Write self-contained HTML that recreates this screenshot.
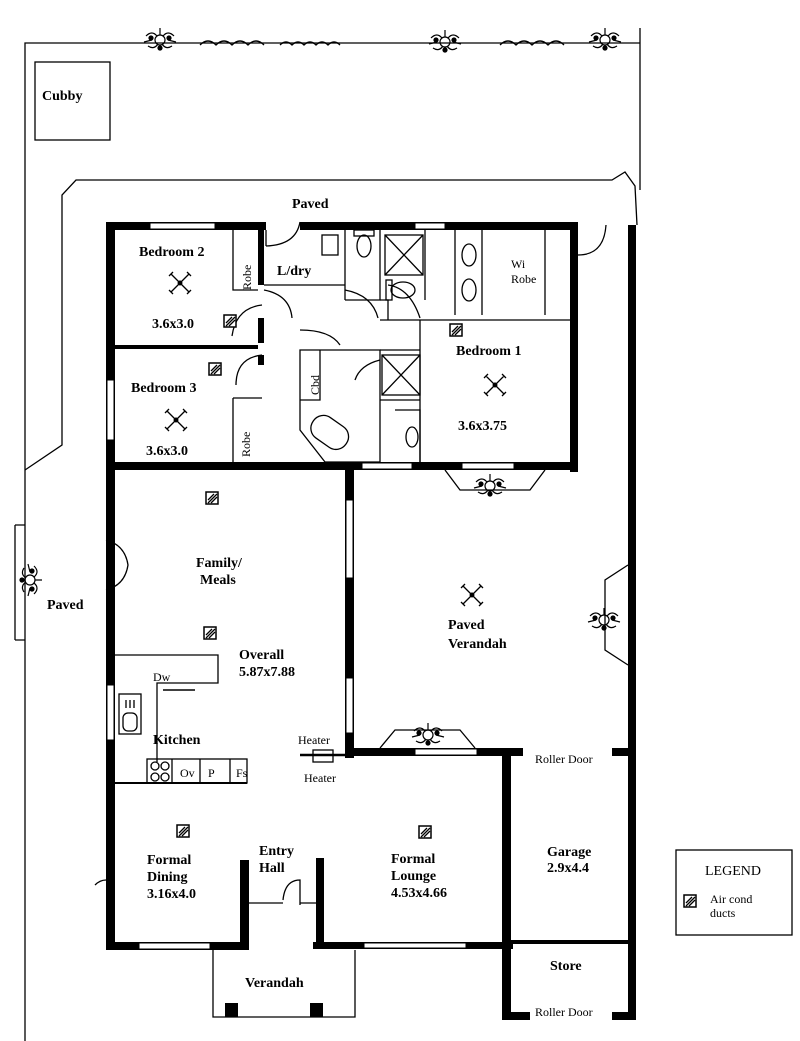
<!DOCTYPE html>
<html><head><style>
html,body{margin:0;padding:0;background:#fff}
svg{display:block}
text{font-family:"Liberation Serif",serif;font-size:14px;font-weight:bold;fill:#000}
.n{font-weight:normal;font-size:12px}
</style></head><body>
<svg width="800" height="1041" viewBox="0 0 800 1041" xmlns="http://www.w3.org/2000/svg">
<defs>
<g id="fan" stroke="#000" stroke-width="1.3" fill="none">
<path d="M0 0 L-9 -9 M-11 -7 L-7 -11 M0 0 L9 -9 M7 -11 L11 -7 M0 0 L-9 9 M-11 7 L-7 11 M0 0 L9 9 M7 11 L11 7"/>
<circle r="1.8" fill="#000"/>
</g>
<g id="ac"><rect x="-6" y="-6" width="12" height="12" fill="#fff" stroke="#000" stroke-width="1.5"/><path d="M-4 2 L2 -4 M-4 5 L5 -4 M-1 5 L5 -1" stroke="#000" stroke-width="1.3"/></g>
<g id="plant" stroke="#000" fill="none" stroke-width="1.2"><circle r="5"/><path d="M-14 -4 Q-8 -10 -3 -4 M14 -4 Q8 -10 3 -4 M-12 6 Q-6 10 -2 4 M12 6 Q6 10 2 4 M0 -5 L0 -12 M-8 0 L-16 2 M8 0 L16 2"/><circle cx="-9" cy="-2" r="2" fill="#000"/><circle cx="9" cy="-2" r="2" fill="#000"/><circle cx="0" cy="8" r="2" fill="#000"/></g>
</defs>
<g fill="none" stroke="#000" stroke-width="1.3">
<path d="M25 1041 L25 43 L640 43"/>
<path d="M640 28 L640 190"/>
<rect x="35" y="62" width="75" height="78"/>
<path d="M25 470 L62 445 L62 195 L76 180 L612 180 L625 172 L635 186 L637 225"/>
<path d="M200 45 q8 -8 16 0 q8 -8 16 0 q8 -8 16 0 q8 -8 16 0 M280 45 q6 -6 12 0 q6 -6 12 0 q6 -6 12 0 q6 -6 12 0 q6 -6 12 0 M500 45 q8 -8 16 0 q8 -8 16 0 q8 -8 16 0 q8 -8 16 0"/>
<path d="M15 525 L25 525 M15 525 L15 640 M15 640 L25 640"/>
</g>
<use href="#plant" x="160" y="40"/>
<use href="#plant" x="445" y="42"/>
<use href="#plant" x="605" y="40"/>
<use href="#plant" x="30" y="580" transform="rotate(90 30 580)"/>
<use href="#plant" x="490" y="486"/>
<use href="#plant" x="604" y="620"/>
<use href="#plant" x="428" y="735"/>

<g fill="#000">
<rect x="106" y="222" width="160" height="8"/>
<rect x="300" y="222" width="278" height="8"/>
<rect x="106" y="222" width="9" height="728"/>
<rect x="570" y="222" width="8" height="250"/>
<rect x="106" y="462" width="472" height="8"/>
<rect x="345" y="462" width="9" height="296"/>
<rect x="345" y="748" width="178" height="8"/>
<rect x="502" y="748" width="9" height="272"/>
<rect x="628" y="225" width="8" height="795"/>
<rect x="106" y="942" width="142" height="8"/>
<rect x="313" y="942" width="200" height="7"/>
<rect x="240" y="860" width="9" height="90"/>
<rect x="316" y="858" width="8" height="90"/>
<rect x="258" y="230" width="6" height="55"/>
<rect x="258" y="318" width="6" height="25"/>
<rect x="258" y="355" width="6" height="10"/>
<rect x="115" y="345" width="143" height="4"/>
<rect x="612" y="748" width="18" height="8"/>
</g>
<g fill="#fff" stroke="#000" stroke-width="1">
<rect x="150" y="223" width="65" height="6"/>
<rect x="107" y="380" width="7" height="60"/>
<rect x="107" y="685" width="7" height="55"/>
<rect x="415" y="223" width="30" height="6"/>
<rect x="362" y="463" width="50" height="6"/>
<rect x="462" y="463" width="52" height="6"/>
<rect x="346" y="500" width="7" height="78"/>
<rect x="346" y="678" width="7" height="55"/>
<rect x="139" y="943" width="71" height="6"/>
<rect x="364" y="943" width="102" height="5"/>
<rect x="415" y="749" width="62" height="6"/>
</g>
<g fill="none" stroke="#000" stroke-width="1.3">
<path d="M233 230 L233 290 L258 290 M233 398 L233 470 M262 398 L233 398"/>
<path d="M264 285 L345 285 L345 230 M345 285 L345 300 M380 230 L380 300 L345 300"/>
<path d="M380 300 L388 300 L388 320 L570 320 M420 320 L420 462 M380 320 L388 320"/>
<path d="M425 230 L425 300 M455 230 L455 315 M482 230 L482 315 M545 230 L545 315"/>
<path d="M300 350 L300 430 L325 462 L380 462 L380 350 Z M300 400 L320 400 L320 350"/>
<path d="M380 350 L420 350 M380 400 L420 400 M395 410 L420 410 L420 462"/>
<path d="M266 246 Q296 245 300 222"/><path d="M266 246 L266 230"/>
<path d="M264 290 Q290 295 292 318"/>
<path d="M345 290 Q372 295 378 318"/>
<path d="M388 285 Q410 288 420 318"/>
<path d="M262 305 Q236 308 232 336"/>
<path d="M262 355 Q236 358 236 385"/>
<path d="M300 330 Q330 330 340 345"/>
<path d="M380 360 Q360 365 355 380"/>
<path d="M578 255 Q604 255 606 225"/>
<path d="M106 540 Q125 545 128 565 Q125 585 106 590"/>
<path d="M95 885 Q100 880 106 880"/>
<path d="M283 900 Q285 880 300 880 L300 905"/>
<path d="M249 903 L283 903 M300 903 L316 903"/>
<rect x="322" y="235" width="16" height="20"/>
<ellipse cx="364" cy="246" rx="7" ry="11"/><rect x="354" y="230" width="20" height="6"/>
<rect x="385" y="235" width="38" height="40"/><path d="M385 235 L423 275 M423 235 L385 275"/>
<ellipse cx="403" cy="290" rx="12" ry="8"/><rect x="386" y="280" width="6" height="20"/>
<ellipse cx="469" cy="255" rx="7" ry="11"/><ellipse cx="469" cy="290" rx="7" ry="11"/>
<rect x="382" y="355" width="38" height="40"/><path d="M382 355 L420 395 M420 355 L382 395"/>
<ellipse cx="412" cy="437" rx="6" ry="10"/>
<rect x="310" y="420" width="40" height="25" rx="12" transform="rotate(35 330 432)"/>
<path d="M445 470 L460 490 L530 490 L545 470"/>
<path d="M628 565 L605 580 L605 650 L628 665"/>
<path d="M380 748 L395 730 L460 730 L475 748"/>
<path d="M352 578 L350 678"/>
<path d="M115 655 L218 655 L218 683 L157 683 L157 762"/>
<path d="M163 690 L195 690" stroke-width="1.6"/>
<rect x="119" y="694" width="22" height="40"/><rect x="123" y="713" width="14" height="18" rx="5"/><path d="M126 700 L126 708 M130 700 L130 708 M134 700 L134 708"/>
<rect x="147" y="759" width="100" height="24"/>
<path d="M172 759 L172 783 M200 759 L200 783 M230 759 L230 783"/>
<circle cx="155" cy="766" r="4"/><circle cx="165" cy="766" r="4"/><circle cx="155" cy="777" r="4"/><circle cx="165" cy="777" r="4"/>
<path d="M115 783 L247 783" stroke-width="2"/>
<path d="M300 755 L345 755" stroke-width="2.5"/>
<rect x="313" y="750" width="20" height="12"/>
<path d="M213 950 L213 1017 L355 1017 L355 950"/>
<rect x="676" y="850" width="116" height="85"/>
</g>
<g fill="#000">
<rect x="225" y="1003" width="13" height="14"/>
<rect x="310" y="1003" width="13" height="14"/>
<rect x="508" y="1012" width="22" height="8"/>
<rect x="612" y="1012" width="18" height="8"/>
</g>
<rect x="511" y="940" width="118" height="4" fill="#000"/>
<use href="#fan" x="180" y="283"/>
<use href="#fan" x="176" y="420"/>
<use href="#fan" x="495" y="385"/>
<use href="#fan" x="472" y="595"/>
<use href="#ac" x="230" y="321"/>
<use href="#ac" x="215" y="369"/>
<use href="#ac" x="456" y="330"/>
<use href="#ac" x="212" y="498"/>
<use href="#ac" x="210" y="633"/>
<use href="#ac" x="183" y="831"/>
<use href="#ac" x="425" y="832"/>
<use href="#ac" x="690" y="901"/>

<text x="42" y="100">Cubby</text>
<text x="292" y="208">Paved</text>
<text x="139" y="256">Bedroom 2</text>
<text x="152" y="328">3.6x3.0</text>
<text x="277" y="275">L/dry</text>
<text x="131" y="392">Bedroom 3</text>
<text x="146" y="455">3.6x3.0</text>
<text x="456" y="355">Bedroom 1</text>
<text x="458" y="430">3.6x3.75</text>
<text class="n" x="511" y="268">Wi</text>
<text class="n" x="511" y="283">Robe</text>
<text class="n" transform="translate(251 290) rotate(-90)">Robe</text>
<text class="n" transform="translate(250 457) rotate(-90)">Robe</text>
<text class="n" transform="translate(319 395) rotate(-90)">Cbd</text>
<text x="196" y="567">Family/</text>
<text x="200" y="584">Meals</text>
<text x="47" y="609">Paved</text>
<text x="239" y="659">Overall</text>
<text x="239" y="676">5.87x7.88</text>
<text x="448" y="629">Paved</text>
<text x="448" y="648">Verandah</text>
<text class="n" x="153" y="681">Dw</text>
<text x="153" y="744">Kitchen</text>
<text class="n" x="180" y="777">Ov</text>
<text class="n" x="208" y="777">P</text>
<text class="n" x="236" y="777">Fs</text>
<text class="n" x="298" y="744">Heater</text>
<text class="n" x="304" y="782">Heater</text>
<text class="n" x="535" y="763">Roller Door</text>
<text class="n" x="535" y="1016">Roller Door</text>
<text x="547" y="856">Garage</text>
<text x="547" y="872">2.9x4.4</text>
<text x="550" y="970">Store</text>
<text x="147" y="864">Formal</text>
<text x="147" y="881">Dining</text>
<text x="147" y="898">3.16x4.0</text>
<text x="259" y="855">Entry</text>
<text x="259" y="872">Hall</text>
<text x="391" y="863">Formal</text>
<text x="391" y="880">Lounge</text>
<text x="391" y="897">4.53x4.66</text>
<text x="245" y="987">Verandah</text>
<text class="n" x="705" y="875" style="font-size:14px">LEGEND</text>
<text class="n" x="710" y="903">Air cond</text>
<text class="n" x="710" y="917">ducts</text>
</svg>
</body></html>
